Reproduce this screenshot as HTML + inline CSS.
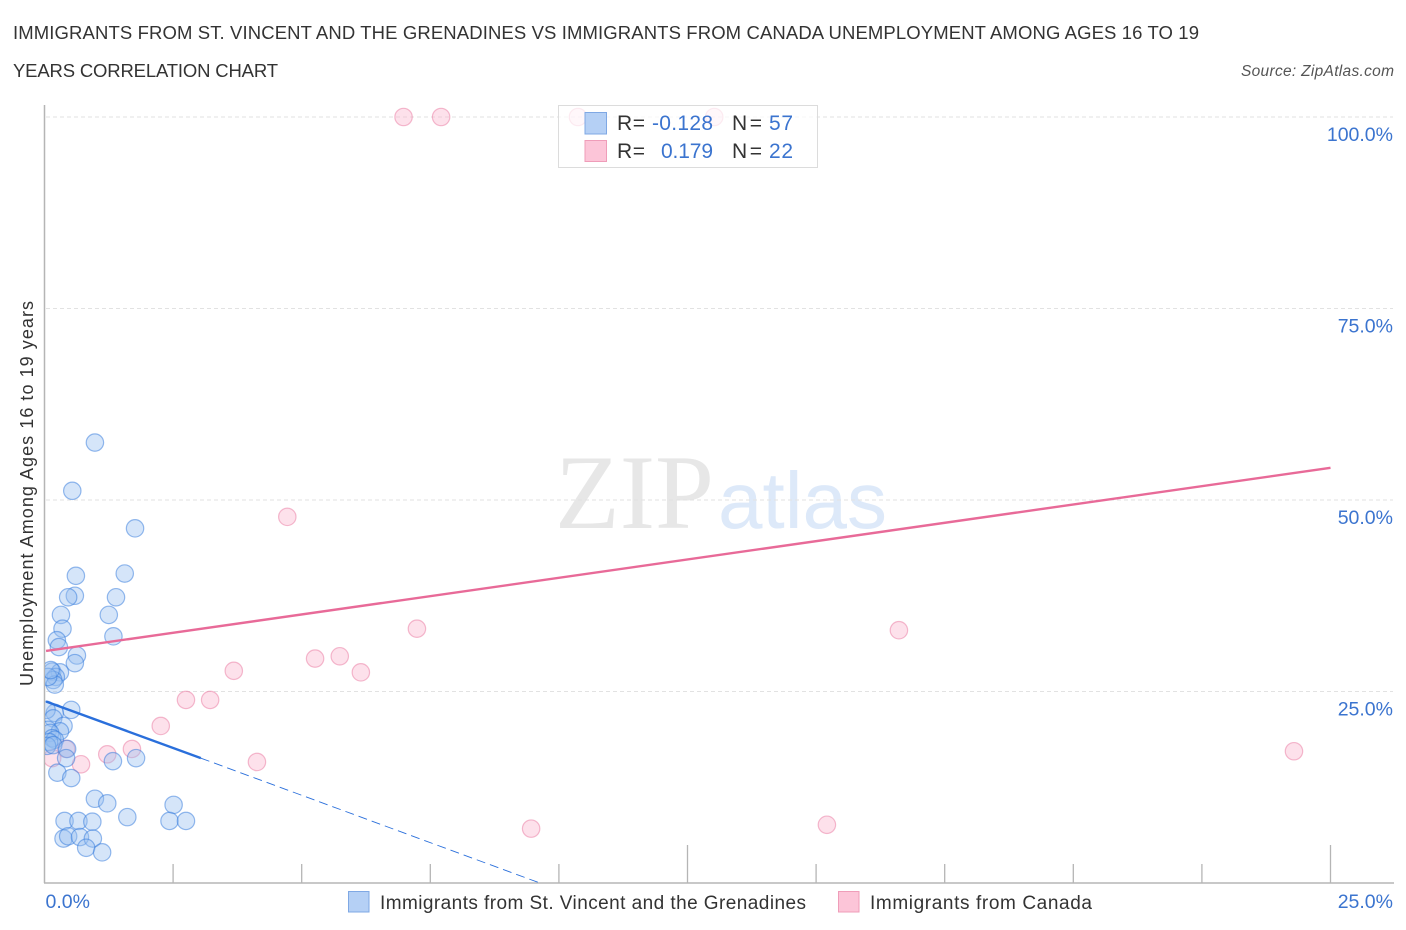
<!DOCTYPE html>
<html lang="en">
<head>
<meta charset="utf-8">
<title>Unemployment correlation chart</title>
<style>
html,body{margin:0;padding:0;background:#fff;width:1406px;height:930px;overflow:hidden}
svg{display:block;font-family:"Liberation Sans",sans-serif}
</style>
</head>
<body>
<svg id="chart" xmlns="http://www.w3.org/2000/svg" width="1406" height="930" viewBox="0 0 1406 930">
  <defs>
    <clipPath id="plot-clip"><rect x="45" y="100" width="1350" height="783"/></clipPath>
  </defs>
  <text x="13" y="39" font-size="18.5" fill="#333" textLength="1186" lengthAdjust="spacing">IMMIGRANTS FROM ST. VINCENT AND THE GRENADINES VS IMMIGRANTS FROM CANADA UNEMPLOYMENT AMONG AGES 16 TO 19</text>
  <text x="13" y="77" font-size="18.5" fill="#333" textLength="265" lengthAdjust="spacing">YEARS CORRELATION CHART</text>
  <text x="1394" y="76" font-size="15.5" font-style="italic" fill="#555" text-anchor="end" textLength="153" lengthAdjust="spacing">Source: ZipAtlas.com</text>
  <g>
    <text x="555" y="528" font-family="'Liberation Serif',serif" font-size="106" fill="#e7e7e7" textLength="159" lengthAdjust="spacingAndGlyphs">ZIP</text>
    <text x="718" y="528" font-size="80" fill="#dde9f9" textLength="169" lengthAdjust="spacingAndGlyphs">atlas</text>
  </g>
  <g id="grid"></g>
  <g id="axes"></g>
  <g id="pink-points" clip-path="url(#plot-clip)"></g>
  <g id="blue-points" clip-path="url(#plot-clip)"></g>
  <g id="trends"></g>
  <text transform="translate(33,686) rotate(-90)" font-size="18" fill="#333" textLength="385" lengthAdjust="spacing">Unemployment Among Ages 16 to 19 years</text>
  <g id="y-labels"></g>
  <g id="x-labels"></g>

  <g>
    <rect x="558.5" y="105.5" width="259" height="62" fill="#fff" fill-opacity="0.72" stroke="#dcdcdc" stroke-width="1"/>
    <rect x="585" y="112.5" width="21.5" height="21.5" fill="#b5d0f5" stroke="#7fa8e4"/>
    <rect x="585" y="140.5" width="21.5" height="21" fill="#fcc5d8" stroke="#ef9db9"/>
    <g font-size="21">
      <text x="617" y="130" fill="#333" textLength="28" lengthAdjust="spacing">R =</text>
      <text x="652" y="130" fill="#3b74cf" textLength="61" lengthAdjust="spacing">-0.128</text>
      <text x="732" y="130" fill="#333" textLength="30" lengthAdjust="spacing">N =</text>
      <text x="769" y="130" fill="#3b74cf" textLength="24" lengthAdjust="spacing">57</text>
      <text x="617" y="158" fill="#333" textLength="28" lengthAdjust="spacing">R =</text>
      <text x="661" y="158" fill="#3b74cf" textLength="52" lengthAdjust="spacing">0.179</text>
      <text x="732" y="158" fill="#333" textLength="30" lengthAdjust="spacing">N =</text>
      <text x="769" y="158" fill="#3b74cf" textLength="24" lengthAdjust="spacing">22</text>
    </g>
  </g>

  <g>
    <rect x="348.5" y="891.5" width="20.5" height="20.5" fill="#b5d0f5" stroke="#7fa8e4"/>
    <text x="380" y="909" font-size="19" fill="#333" textLength="426" lengthAdjust="spacing">Immigrants from St. Vincent and the Grenadines</text>
    <rect x="838.5" y="891.5" width="20.5" height="20.5" fill="#fcc5d8" stroke="#ef9db9"/>
    <text x="870" y="909" font-size="19" fill="#333" textLength="222" lengthAdjust="spacing">Immigrants from Canada</text>
  </g>
</svg>
<script>
const blueX = [0.98,0.54,1.76,1.56,0.61,1.39,0.59,0.46,0.32,1.25,0.35,0.24,0.28,1.34,0.63,0.59,0.15,0.30,0.22,0.17,0.20,0.07,0.12,0.52,0.20,0.04,0.17,0.37,0.07,0.30,0.11,0.15,0.20,0.09,0.05,0.17,0.44,0.42,1.33,1.78,0.25,0.52,0.98,1.22,1.61,2.51,2.43,2.75,0.39,0.66,0.93,0.37,0.46,0.69,0.94,0.81,1.12];
const blueY = [57.5,51.2,46.3,40.4,40.1,37.3,37.5,37.3,35.0,35.0,33.2,31.7,30.8,32.2,29.7,28.7,27.6,27.5,26.9,26.5,25.9,26.9,27.8,22.6,22.2,22.6,21.5,20.5,20.0,19.8,19.6,18.9,18.7,18.4,17.9,18.0,17.5,16.3,15.9,16.3,14.4,13.7,11.0,10.4,8.6,10.2,8.1,8.1,8.1,8.1,8.0,5.8,6.1,6.0,5.8,4.6,4.0];
const pinkX = [6.98,7.71,10.37,13.02,4.72,7.24,16.61,5.26,5.74,6.15,3.68,2.75,3.22,2.26,4.13,1.70,1.22,0.71,0.42,0.15,9.46,15.21,24.29];
const pinkY = [100,100,100,100,47.8,33.2,33.0,29.3,29.6,27.5,27.7,23.9,23.9,20.5,15.8,17.5,16.8,15.5,17.5,16.3,7.1,7.6,17.2];
const blueTrendSolidX = [0.03,3.04];
const blueTrendSolidY = [23.7,16.3];
const blueTrendDashX = [3.04,9.63];
const blueTrendDashY = [16.3,0];
const pinkTrendX = [0.03,25];
const pinkTrendY = [30.3,54.2];
const yTickValues = [25,50,75,100];
const yTickLabels = ["25.0%","50.0%","75.0%","100.0%"];
const xTickValues = [2.5,5,7.5,10,12.5,15,17.5,20,22.5,25];
const xTickMajor = [false,false,false,false,true,false,false,false,false,true];
const xEndValues = [0,25];
const xEndLabels = ["0.0%","25.0%"];

const NS = 'http://www.w3.org/2000/svg';
const xScale = v => 44.5 + v * 51.44;
const yScale = v => 883 - v * 7.66;
function make(tag, attrs, parent) {
  const el = document.createElementNS(NS, tag);
  for (const k in attrs) el.setAttribute(k, attrs[k]);
  parent.appendChild(el);
  return el;
}
const grid = document.getElementById('grid');
yTickValues.forEach(v => {
  const l = make('line', {x1:46, x2:1393, y1:yScale(v), y2:yScale(v), stroke:'#e2e2e2', 'stroke-width':1, 'stroke-dasharray':'4 3'}, grid);
  
  
});
const axes = document.getElementById('axes');
const yAxisLine = make('line', {x1:44.5, x2:44.5, y1:105, y2:883, stroke:'#b5b5b5', 'stroke-width':1.5}, axes);


const xAxisLine = make('line', {x1:44, x2:1394, y1:883, y2:883, stroke:'#b5b5b5', 'stroke-width':1.5}, axes);


xTickValues.forEach((v, i) => {
  const t = make('line', {x1:xScale(v), x2:xScale(v), y1:xTickMajor[i] ? 845 : 864, y2:883, stroke:'#b5b5b5', 'stroke-width':1.3}, axes);
  
  
});
function drawPoints(xs, ys, groupId, fill, stroke, name) {
  const g = document.getElementById(groupId);
  xs.forEach((x, i) => {
    const c = make('circle', {cx:xScale(x), cy:yScale(ys[i]), r:8.7, fill:fill, 'fill-opacity':0.4, stroke:stroke, 'stroke-opacity':0.5, 'stroke-width':1.2}, g);
    
    
  });
}
drawPoints(pinkX, pinkY, 'pink-points', '#f9b4cc', '#e9789f', 'canada-point');
drawPoints(blueX, blueY, 'blue-points', '#97bdf0', '#2f78dc', 'st-vincent-point');
const trends = document.getElementById('trends');
const blueDash = make('line', {x1:xScale(blueTrendDashX[0]), y1:yScale(blueTrendDashY[0]), x2:xScale(blueTrendDashX[1]), y2:yScale(blueTrendDashY[1]), stroke:'#2a6fdb', 'stroke-width':0.9, 'stroke-dasharray':'9 5'}, trends);


const blueSolid = make('line', {x1:xScale(blueTrendSolidX[0]), y1:yScale(blueTrendSolidY[0]), x2:xScale(blueTrendSolidX[1]), y2:yScale(blueTrendSolidY[1]), stroke:'#2a6fdb', 'stroke-width':2.4}, trends);


const pinkLine = make('line', {x1:xScale(pinkTrendX[0]), y1:yScale(pinkTrendY[0]), x2:xScale(pinkTrendX[1]), y2:yScale(pinkTrendY[1]), stroke:'#e86a98', 'stroke-width':2.4}, trends);


const yLabels = document.getElementById('y-labels');
yTickValues.forEach((v, i) => {
  const t = make('text', {x:1393, y:yScale(v) + 24, 'text-anchor':'end', 'font-size':19.5, fill:'#3b74cf'}, yLabels);
  t.textContent = yTickLabels[i];
  
  
});
const xLabels = document.getElementById('x-labels');
xEndValues.forEach((v, i) => {
  const t = make('text', {x:i === 0 ? xScale(v) + 1 : 1393, y:908, 'text-anchor':i === 0 ? 'start' : 'end', 'font-size':19.5, fill:'#3b74cf'}, xLabels);
  t.textContent = xEndLabels[i];
  
  
});
</script>
</body>
</html>
